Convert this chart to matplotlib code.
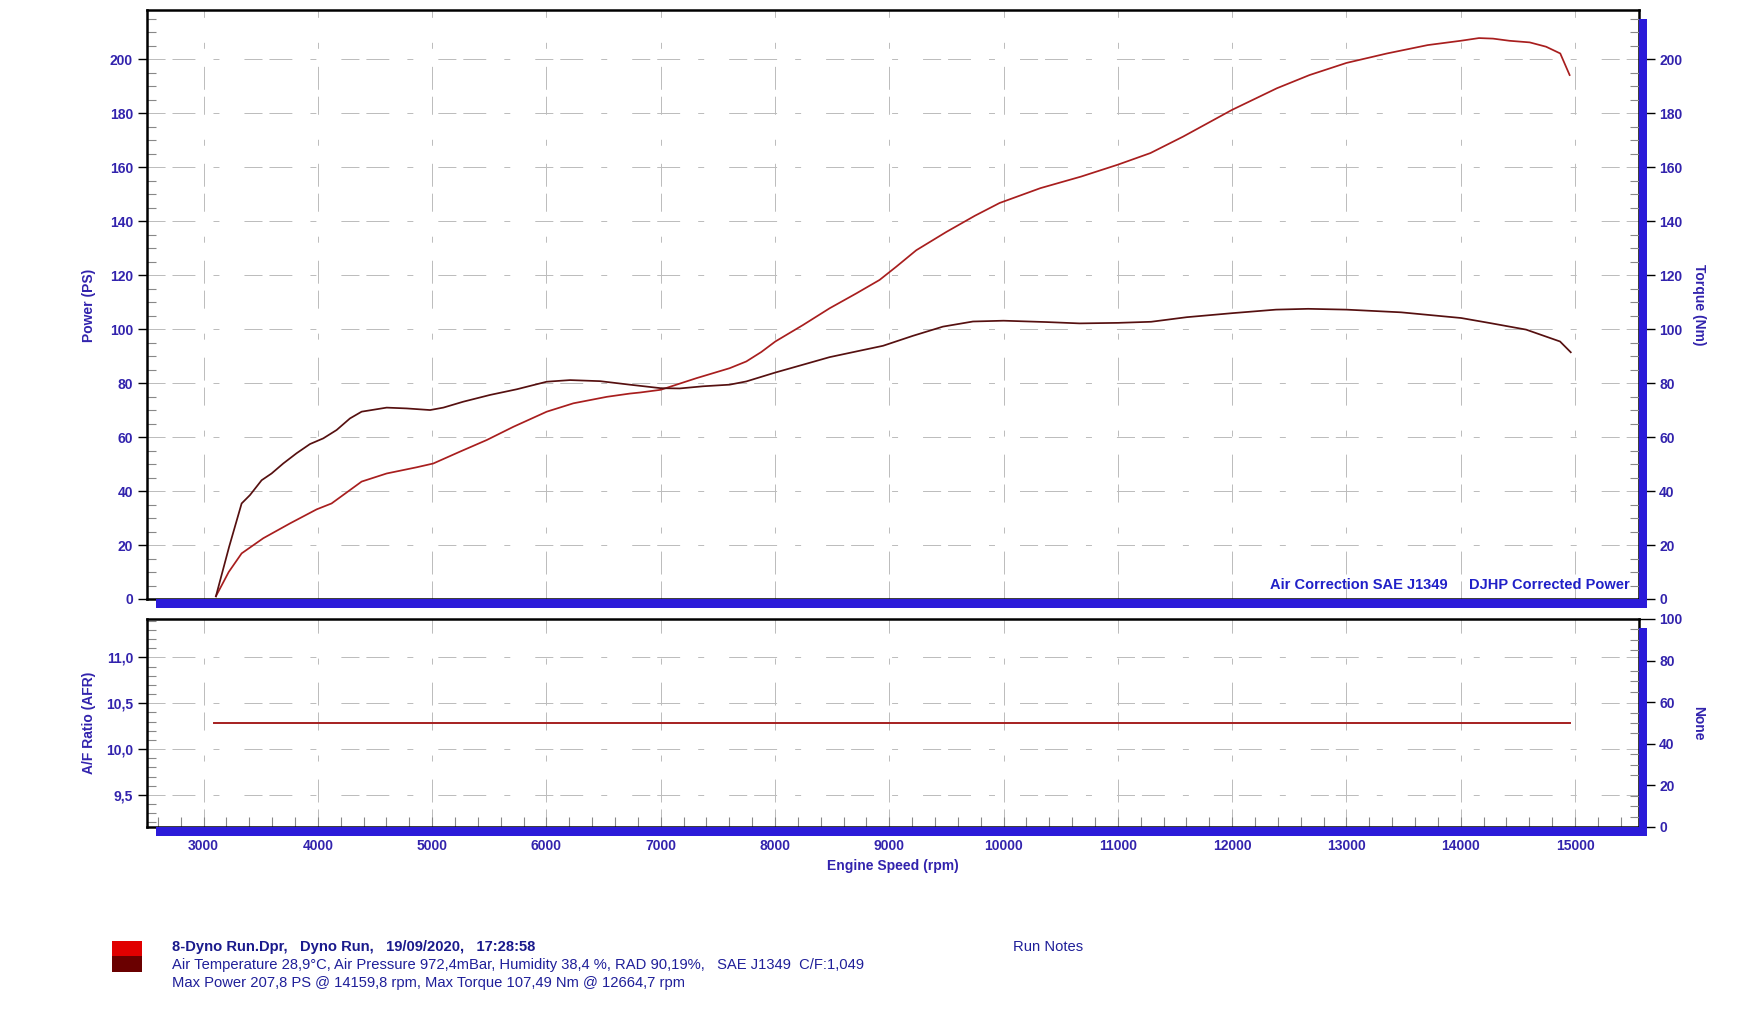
import matplotlib
matplotlib.use("Agg")
import matplotlib.pyplot as plt
from matplotlib.patches import Rectangle
from matplotlib.ticker import MultipleLocator, FuncFormatter

# values
rpm_power = [3108, 3220, 3333, 3522, 3756, 3989, 4120, 4383, 4602, 4865, 5010, 5244,
             5478, 5711, 6003, 6236, 6529, 6729, 6820, 7000, 7312, 7603, 7749, 7880, 8003,
             8245, 8478, 8711, 8915, 9061, 9236, 9500, 9750, 9965, 10322, 10679, 11000,
             11285, 11571, 11999, 12391, 12677, 13001, 13355, 13711, 14000, 14160, 14283,
             14426, 14604, 14747, 14871, 14953]
power_ps = [1.0, 10.0, 16.9, 22.5, 28.0, 33.2, 35.4, 43.5, 46.5, 48.8, 50.2, 54.6,
            58.9, 63.8, 69.4, 72.5, 74.9, 76.1, 76.5, 77.5, 81.8, 85.5, 88.0, 91.5, 95.4,
            101.5, 107.7, 113.2, 118.2, 123.1, 129.2, 136.0, 142.0, 146.7, 152.2, 156.5, 160.9,
            165.2, 171.3, 181.2, 189.2, 194.1, 198.6, 202.1, 205.2, 206.8, 207.8, 207.6,
            206.8, 206.2, 204.6, 202.1, 194.1]

rpm_torque = [3108, 3224, 3333, 3406, 3508, 3595, 3697, 3814, 3931, 4047, 4164, 4281,
              4383, 4602, 4777, 4982, 5098, 5273, 5507, 5741, 6003, 6207, 6470, 6729,
              7000, 7166, 7370, 7603, 7749, 8003, 8245, 8478, 8711, 8945, 9207, 9469,
              9732, 10000, 10373, 10665, 11003, 11291, 11603, 12003, 12384, 12665, 13000,
              13478, 14003, 14259, 14572, 14869, 14963]
torque_nm = [1.0, 19.4, 35.4, 38.5, 44.0, 46.5, 50.2, 54.0, 57.4, 59.5, 62.6, 66.9,
             69.4, 70.9, 70.6, 70.0, 70.9, 73.1, 75.6, 77.7, 80.5, 81.1, 80.7, 79.4,
             78.1, 78.0, 78.8, 79.4, 80.6, 83.9, 86.8, 89.6, 91.7, 93.8, 97.5, 100.9,
             102.8, 103.1, 102.6, 102.1, 102.3, 102.7, 104.4, 105.9, 107.2, 107.5, 107.2,
             106.2, 104.1, 102.2, 99.8, 95.4, 91.4]

rpm_afr = [3095, 14960]
afr = [10.29, 10.29]

W, H = 1754, 1017
TXT = "#3223AD"
BAR = "#2B1BD9"
GRID = dict(color="#BDBDBD", linewidth=0.72, linestyle=(0, (13, 5, 16.5, 13, 4.3, 18)))

plt.rcParams["font.family"] = ["Liberation Sans", "DejaVu Sans"]
plt.rcParams["font.weight"] = "bold"
plt.rcParams["lines.scale_dashes"] = False

fig = plt.figure(figsize=(W / 100, H / 100), dpi=100)
ax = fig.add_axes([147 / W, 1 - 599 / H, 1492 / W, 589 / H])
ax2 = fig.add_axes([147 / W, 1 - 827 / H, 1492 / W, 208 / H], sharex=ax)

ax.plot(rpm_power, power_ps, color="#A81E1E", lw=1.25, zorder=3)
ax.plot(rpm_torque, torque_nm, color="#561010", lw=1.25, zorder=3)
ax2.plot(rpm_afr, afr, color="#A51F1F", lw=1.4, zorder=3)

ax.set_xlim(2505, 15560)
ax.set_ylim(0, 218.2)
ax2.set_ylim(9.15, 11.42)

comma = FuncFormatter(lambda v, p: f"{v:.1f}".replace(".", ","))

for a in (ax, ax2):
    for s in a.spines.values():
        s.set_linewidth(1.8)
        s.set_color("black")
    a.xaxis.set_major_locator(MultipleLocator(1000))
    a.xaxis.set_minor_locator(MultipleLocator(200))
    a.grid(True, which="major", **GRID)
    a.set_axisbelow(True)
    a.tick_params(axis="y", which="major", direction="out", length=6.5, width=1,
                  pad=3.5, labelsize=10, labelcolor=TXT)
    a.tick_params(axis="y", which="minor", direction="in", length=6.5, width=0.8,
                  color="#888888")

ax.yaxis.set_major_locator(MultipleLocator(20))
ax.yaxis.set_minor_locator(MultipleLocator(5))
ax.tick_params(axis="x", which="both", bottom=False, labelbottom=False)

ax2.yaxis.set_major_locator(MultipleLocator(0.5))
ax2.yaxis.set_minor_locator(MultipleLocator(0.1))
ax2.yaxis.set_major_formatter(comma)
ax2.tick_params(axis="x", which="both", direction="in", length=7, width=0.8,
                color="#888888", pad=9, labelsize=10, labelcolor=TXT)

# right-hand axes
for a, lim in ((ax, (0, 218.2)), (ax2, (0, 100))):
    r = a.twinx()
    r.set_ylim(*lim)
    r.yaxis.set_major_locator(MultipleLocator(20))
    r.yaxis.set_minor_locator(MultipleLocator(5))
    for s in r.spines.values():
        s.set_visible(False)
    r.tick_params(axis="y", which="major", direction="out", length=11.5, width=1,
                  pad=3, labelsize=10, labelcolor=TXT)
    r.tick_params(axis="y", which="minor", direction="in", length=6.5, width=0.8,
                  color="#888888")

# shadow bars
for x0, y0, x1, y1 in ((156, 599, 1647, 608), (1639, 19, 1647, 608),
                       (156, 827, 1647, 836), (1639, 628, 1647, 836)):
    fig.add_artist(Rectangle((x0 / W, 1 - y1 / H), (x1 - x0) / W, (y1 - y0) / H,
                             transform=fig.transFigure, color=BAR, lw=0, zorder=5))

fig.text(89 / W, 1 - 305 / H, "Power (PS)", rotation=90, ha="center", va="center",
         fontsize=10, color=TXT)
fig.text(1699 / W, 1 - 305 / H, "Torque (Nm)", rotation=270, ha="center", va="center",
         fontsize=10, color=TXT)
fig.text(89 / W, 1 - 723 / H, "A/F Ratio (AFR)", rotation=90, ha="center", va="center",
         fontsize=10, color=TXT)
fig.text(1698 / W, 1 - 723 / H, "None", rotation=270, ha="center", va="center",
         fontsize=10, color=TXT)
fig.text(893 / W, 1 - 866 / H, "Engine Speed (rpm)", ha="center", va="center",
         fontsize=10, color=TXT)

fig.text(1448 / W, 1 - 585 / H, "Air Correction SAE J1349", ha="right", va="center",
         fontsize=10.5, color="#2020C8")
fig.text(1469 / W, 1 - 585 / H, "DJHP Corrected Power", ha="left", va="center",
         fontsize=10.5, color="#2020C8")

# run legend
fig.add_artist(Rectangle((112 / W, 1 - 956 / H), 30 / W, 15 / H, transform=fig.transFigure,
                         color="#E00000", lw=0))
fig.add_artist(Rectangle((112 / W, 1 - 972 / H), 30 / W, 16 / H, transform=fig.transFigure,
                         color="#6A0000", lw=0))
fig.text(172 / W, 1 - 947 / H, "8-Dyno Run.Dpr,   Dyno Run,   19/09/2020,   17:28:58",
         ha="left", va="center", fontsize=10.6, color="#1A1A8C")
fig.text(172 / W, 1 - 965 / H,
         "Air Temperature 28,9°C, Air Pressure 972,4mBar, Humidity 38,4 %, RAD 90,19%,   SAE J1349  C/F:1,049",
         ha="left", va="center", fontsize=10.6, fontweight="normal", color="#1F1F99")
fig.text(172 / W, 1 - 983 / H,
         "Max Power 207,8 PS @ 14159,8 rpm, Max Torque 107,49 Nm @ 12664,7 rpm",
         ha="left", va="center", fontsize=10.6, fontweight="normal", color="#1F1F99")
fig.text(1013 / W, 1 - 947 / H, "Run Notes", ha="left", va="center", fontsize=10.6,
         fontweight="normal", color="#1F1F99")

fig.savefig("out.png", dpi=100, facecolor="white")
